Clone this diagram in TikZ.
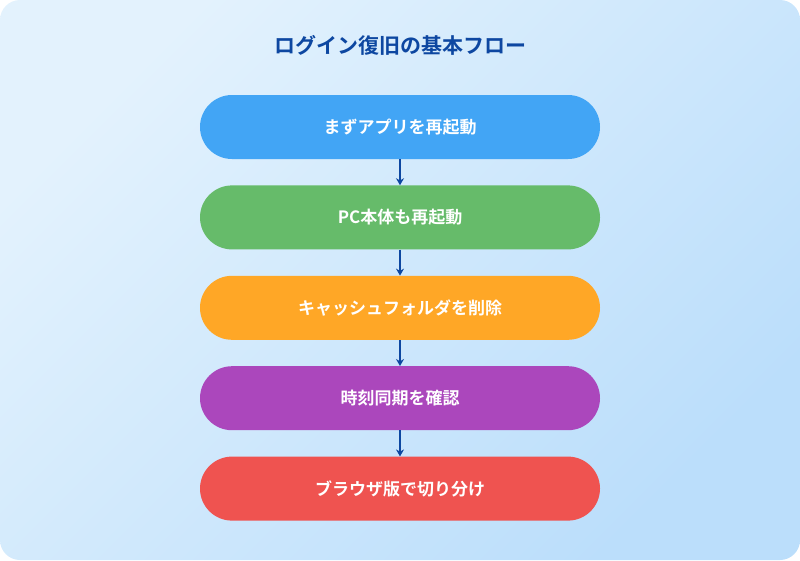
\documentclass[tikz,border=0pt]{standalone}
\usepackage{fontspec}
\newfontfamily\jpfont{Noto Sans CJK JP}[BoldFont={* Bold}]
\usetikzlibrary{positioning,arrows.meta}
\definecolor{bgA}{HTML}{E3F2FD}
\definecolor{bgB}{HTML}{BBDEFB}
\definecolor{titleblue}{HTML}{0D47A1}
\definecolor{stepA}{HTML}{42A5F5}
\definecolor{stepB}{HTML}{66BB6A}
\definecolor{stepC}{HTML}{FFA726}
\definecolor{stepD}{HTML}{AB47BC}
\definecolor{stepE}{HTML}{EF5350}
\tikzset{
    flowbox/.style={rounded corners=32pt, minimum width=400pt, minimum height=64pt,
        text=white, font=\jpfont\bfseries\fontsize{17pt}{20pt}\selectfont, inner sep=0pt},
    flowarrow/.style={-{Stealth[length=7pt,width=8pt]}, draw=titleblue, line width=1.6pt}
}
\begin{document}
\begin{tikzpicture}[x=1pt,y=-1pt]
    \useasboundingbox (0,0) rectangle (800,560);
    \shade[left color=bgA, right color=bgB, rounded corners=20pt, shading angle=45] (0,0) rectangle (800,560);
    \node[text=titleblue, font=\jpfont\bfseries\fontsize{21pt}{24pt}\selectfont] (title) at (400,45) {ログイン復旧の基本フロー};

    \node[flowbox, fill=stepA] (restartapp) at (400,127) {まずアプリを再起動};
    \node[flowbox, fill=stepB, below=26pt of restartapp] (restartpc) {PC本体も再起動};
    \node[flowbox, fill=stepC, below=26pt of restartpc] (clearcache) {キャッシュフォルダを削除};
    \node[flowbox, fill=stepD, below=26pt of clearcache] (timesync) {時刻同期を確認};
    \node[flowbox, fill=stepE, below=26pt of timesync] (browser) {ブラウザ版で切り分け};

    % connectors
    \foreach \a/\b in {restartapp/restartpc, restartpc/clearcache, clearcache/timesync, timesync/browser}
        \draw[flowarrow] (\a) -- (\b);
\end{tikzpicture}
\end{document}
